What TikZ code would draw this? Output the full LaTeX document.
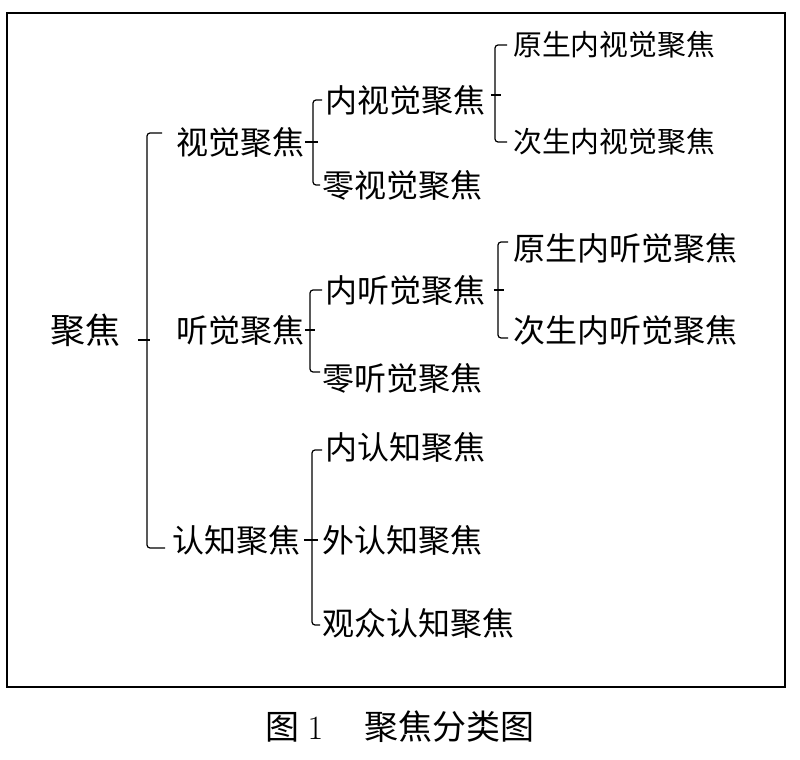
\documentclass[tikz,border=0pt]{standalone}
\usepackage{fontspec}
\newfontfamily\cjk{Noto Sans CJK SC}
\begin{document}
\begin{tikzpicture}[x=0.5pt,y=-0.5pt,
	term/.style={anchor=west, inner sep=0pt, font=\cjk\fontsize{16pt}{16pt}\selectfont},
	smallterm/.style={term, font=\cjk\fontsize{14.4pt}{14.4pt}\selectfont},
	fork/.style={draw, line width=0.6pt, rounded corners=1.5pt}]
	
	\useasboundingbox (0,0) rectangle (800,760);
	\draw [line width=1pt] (7,13) rectangle (785,687);
	
	%Blocks
	\node (root) at (50,330) [term, font=\cjk\fontsize{17.5pt}{17.5pt}\selectfont] {聚焦};
	\node (visual) at (176,142) [term] {视觉聚焦};
	\node (auditory) at (176,330) [term] {听觉聚焦};
	\node (cognitive) at (172,540) [term] {认知聚焦};
	
	\node (innerVis) at (325,100) [term] {内视觉聚焦};
	\node (zeroVis) at (322,185) [term] {零视觉聚焦};
	\node (primVis) at (513,45) [smallterm] {原生内视觉聚焦};
	\node (secVis) at (513,142) [smallterm] {次生内视觉聚焦};
	
	\node (innerAud) at (325,290) [term] {内听觉聚焦};
	\node (zeroAud) at (322,378) [term] {零听觉聚焦};
	\node (primAud) at (513,248) [term] {原生内听觉聚焦};
	\node (secAud) at (513,330) [term] {次生内听觉聚焦};
	
	\node (innerCog) at (325,447) [term] {内认知聚焦};
	\node (outerCog) at (322,540) [term] {外认知聚焦};
	\node (audCog) at (322,623) [term] {观众认知聚焦};
	
	\node (caption) at (400,727) [font=\cjk\fontsize{17pt}{17pt}\selectfont] {图 {\rmfamily 1}\hspace{1.2em}聚焦分类图};
	
	%Links
	\draw [fork] ([xshift=8.5pt,yshift=-5pt]root.east) -- ++(12,0);
	\draw [fork] ([xshift=-7pt,yshift=4.5pt]visual.west) -| ([xshift=-12.5pt,yshift=-4pt]cognitive.west) -- ([xshift=-3.5pt,yshift=-4pt]cognitive.west);
	
	\draw [fork] (visual.east) -- ++(13,0);
	\draw [fork] ([xshift=-1.5pt]innerVis.west) -| ([xshift=-4.5pt]zeroVis.west) -- ([xshift=-1pt]zeroVis.west);
	\draw [fork] ([xshift=2.5pt,yshift=2.5pt]innerVis.east) -- ++(10,0);
	\draw [fork] ([xshift=-3pt]primVis.west) -| ([xshift=-9pt]secVis.west) -- ([xshift=-3pt]secVis.west);
	
	\draw [fork] (auditory.east) -- ++(10,0);
	\draw [fork] ([xshift=-1.5pt]innerAud.west) -| ([xshift=-6pt,yshift=3pt]zeroAud.west) -- ([xshift=-1pt,yshift=3pt]zeroAud.west);
	\draw [fork] ([xshift=4pt]innerAud.east) -- ++(10,0);
	\draw [fork] ([xshift=-2.5pt,yshift=3pt]primAud.west) -| ([xshift=-7.5pt,yshift=-4pt]secAud.west) -- ([xshift=-2.5pt,yshift=-4pt]secAud.west);
	
	\draw [fork] ([xshift=1.5pt]cognitive.east) -- ++(14,0);
	\draw [fork] ([xshift=-1.5pt,yshift=-1.5pt]innerCog.west) -| ([xshift=-5pt,yshift=-1pt]audCog.west) -- ([xshift=-1pt,yshift=-1pt]audCog.west);
	
\end{tikzpicture}
\end{document}
